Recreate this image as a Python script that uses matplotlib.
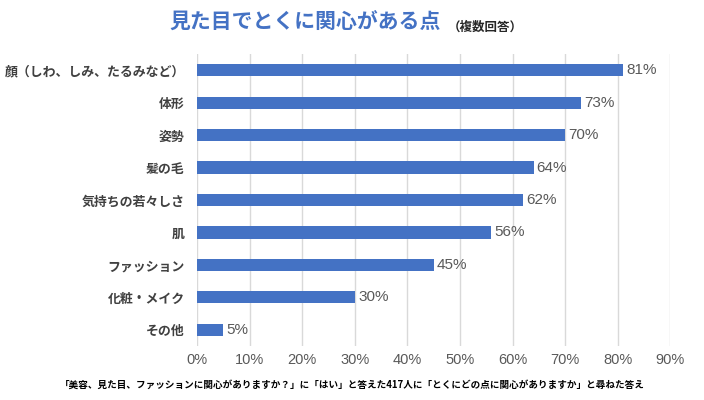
import matplotlib
matplotlib.use("Agg")
import matplotlib.pyplot as plt

plt.rcParams['font.family'] = ['Noto Sans CJK JP', 'DejaVu Sans']

categories = ["顔（しわ、しみ、たるみなど）", "体形", "姿勢", "髪の毛", "気持ちの若々しさ",
              "肌", "ファッション", "化粧・メイク", "その他"]
values = [81, 73, 70, 64, 62, 56, 45, 30, 5]
xticks = [0, 10, 20, 30, 40, 50, 60, 70, 80, 90]

fig = plt.figure(figsize=(7.04, 4.0), dpi=100)
ax = fig.add_axes([0.28, 0.135, 0.672, 0.73])

n = len(categories)
ypos = list(range(n))
ax.barh(ypos, values, height=0.38, color="#4472C4", zorder=3)
ax.set_ylim(n - 0.5, -0.5)
ax.set_xlim(0, 90)
ax.set_xticks(xticks)
ax.set_xticklabels([f"{t}%" for t in xticks], fontsize=10.5, color="#595959",
                   family=['Liberation Sans', 'DejaVu Sans'])
ax.set_yticks(ypos)
ax.set_yticklabels(categories, fontsize=9.3, color="#404040", fontweight='bold')
ax.tick_params(axis='both', length=0)
ax.tick_params(axis='x', pad=5)
ax.tick_params(axis='y', pad=9)
ax.grid(axis='x', color="#D9D9D9", linewidth=1, zorder=0)
for s in ax.spines.values():
    s.set_visible(False)

for y, v in zip(ypos, values):
    ax.text(v + 0.6, y, f"{v}%", va='center', ha='left', fontsize=11, color="#595959",
            family=['Liberation Sans', 'DejaVu Sans'])

fig.text(0.241, 0.945, "見た目でとくに関心がある点", fontsize=15, fontweight='bold',
         color="#4472C4", ha='left', va='center')
fig.text(0.636, 0.932, "（複数回答）", fontsize=9, fontweight='bold',
         color="#262626", ha='left', va='center')
fig.text(0.085, 0.037,
         "「美容、見た目、ファッションに関心がありますか？」に「はい」と答えた417人に「とくにどの点に関心がありますか」と尋ねた答え",
         fontsize=6.9, fontweight='bold', color="#000000", ha='left', va='center')

fig.savefig("out.png", dpi=100)
